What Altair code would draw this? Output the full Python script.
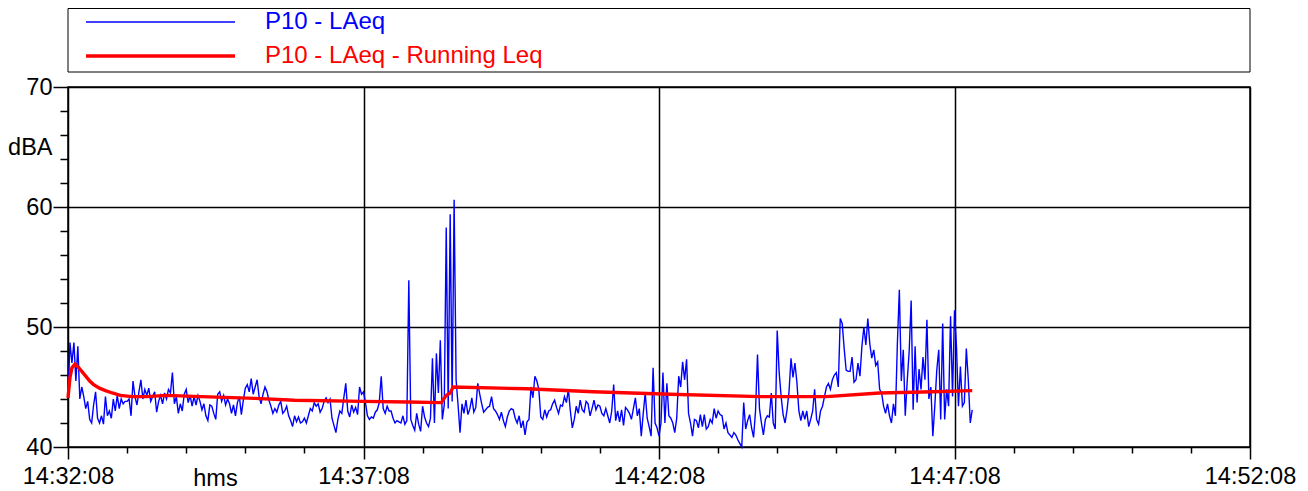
import altair as alt
import pandas as pd

# Start of the time axis: 14:32:08 (seconds of day)
START_SEC = 14 * 3600 + 32 * 60 + 8
STEP_SEC = 2  # LAeq samples every 2 s

# P10 - LAeq, one row per minute (30 samples of 2 s each)
m00 = [44.1, 48.7, 47.0, 48.7, 45.5, 48.4, 44.0, 45.0, 44.2, 43.2, 43.8, 42.3, 42.0, 43.5, 44.6,
       42.4, 42.0, 42.6, 41.9, 44.2, 42.6, 43.0, 42.4, 44.0, 43.0, 44.3, 43.2, 44.0, 43.6, 43.8]
m01 = [43.8, 44.0, 42.6, 45.5, 44.2, 43.5, 44.6, 45.6, 44.0, 44.8, 44.3, 44.9, 43.8, 44.2, 44.6,
       42.9, 43.8, 44.3, 43.6, 44.5, 44.0, 44.8, 44.5, 46.2, 43.6, 44.2, 42.8, 43.6, 43.0, 44.4]
m02 = [44.8, 43.7, 44.3, 43.4, 44.2, 43.5, 44.3, 43.8, 43.1, 43.6, 42.6, 42.2, 43.5, 43.4, 42.8,
       42.3, 44.4, 44.6, 43.8, 44.3, 43.5, 44.0, 43.6, 42.8, 43.5, 42.6, 43.7, 44.2, 42.7, 43.9]
m03 = [44.9, 45.2, 44.6, 45.7, 44.4, 45.0, 45.6, 44.2, 43.6, 44.4, 45.0, 44.6, 43.9, 43.4, 42.8,
       43.2, 42.9, 43.5, 43.8, 42.8, 43.0, 43.4, 42.6, 42.2, 41.7, 42.6, 42.1, 42.5, 42.0, 42.1]
m04 = [42.4, 42.0, 42.6, 43.2, 43.0, 43.7, 43.4, 43.6, 42.9, 43.2, 43.8, 44.1, 43.7, 44.0, 42.4,
       41.8, 41.2, 42.3, 43.0, 42.8, 44.1, 45.3, 43.0, 42.5, 43.5, 42.9, 43.3, 42.7, 45.0, 44.4]
m05 = [44.6, 43.7, 42.6, 42.3, 42.5, 42.4, 42.9, 43.1, 43.7, 45.9, 43.2, 42.8, 43.4, 43.0, 43.0,
       42.4, 42.0, 42.2, 42.1, 42.0, 42.6, 41.9, 42.2, 53.9, 42.3, 41.8, 41.4, 42.8, 41.9, 41.3]
m06 = [43.4, 42.5, 42.0, 41.7, 42.4, 47.4, 42.0, 47.8, 44.5, 48.9, 42.3, 43.5, 58.3, 43.2, 59.4,
       43.8, 60.6, 45.6, 43.5, 41.2, 43.6, 42.8, 43.9, 42.7, 43.2, 44.1, 42.9, 43.3, 45.3, 44.4]
m07 = [43.6, 42.9, 43.1, 43.3, 43.4, 44.2, 43.2, 43.0, 42.7, 42.3, 42.9, 42.2, 41.7, 42.5, 43.0,
       43.2, 43.1, 42.4, 42.0, 42.6, 41.6, 42.2, 41.0, 42.1, 42.3, 45.0, 44.1, 45.9, 45.5, 44.8]
m08 = [42.5, 42.3, 43.1, 42.5, 43.0, 43.1, 43.6, 43.9, 43.3, 42.8, 43.5, 43.4, 44.2, 43.7, 44.8,
       43.0, 41.6, 42.3, 43.4, 42.8, 43.9, 43.1, 42.9, 43.8, 43.6, 42.6, 43.2, 43.9, 43.1, 43.5]
m09 = [43.4, 42.8, 42.6, 43.2, 42.6, 42.0, 43.0, 45.2, 42.2, 43.0, 42.1, 43.1, 41.8, 43.3, 43.1,
       42.8, 42.3, 43.2, 44.1, 42.6, 43.2, 40.9, 42.8, 44.5, 42.4, 41.7, 40.9, 46.6, 42.0, 41.6]
m10 = [40.9, 42.0, 46.2, 42.0, 45.3, 42.6, 42.4, 42.0, 41.2, 42.4, 45.9, 45.0, 47.1, 45.6, 47.3,
       42.8, 42.0, 40.9, 42.3, 42.2, 41.6, 42.7, 41.7, 42.7, 41.5, 41.7, 42.3, 42.0, 43.2, 42.4]
m11 = [43.0, 42.7, 42.6, 41.5, 42.0, 41.2, 41.0, 40.8, 41.2, 41.0, 40.6, 40.3, 40.0, 43.7, 41.5,
       42.2, 42.7, 41.6, 40.8, 43.0, 47.7, 43.2, 42.0, 41.0, 42.3, 42.6, 42.5, 44.5, 42.0, 41.5]
m12 = [49.7, 46.2, 44.2, 42.7, 42.0, 43.1, 44.6, 47.4, 45.8, 47.0, 45.4, 43.0, 42.2, 43.0, 42.3,
       43.0, 41.7, 42.3, 43.0, 44.8, 42.3, 41.9, 43.0, 43.4, 44.2, 45.0, 45.3, 44.8, 45.6, 46.0]
m13 = [46.2, 45.0, 50.7, 50.3, 48.2, 46.4, 46.3, 46.3, 47.5, 45.4, 45.6, 47.0, 45.9, 48.4, 50.0,
       48.5, 50.7, 48.6, 47.4, 48.1, 46.8, 47.1, 44.8, 44.5, 43.4, 42.8, 43.6, 42.6, 42.0, 43.6]
m14 = [42.6, 48.6, 53.1, 45.5, 48.1, 42.6, 45.5, 48.0, 52.2, 43.1, 48.4, 43.7, 46.5, 44.8, 47.5,
       45.6, 50.6, 44.0, 45.0, 40.9, 43.4, 46.4, 48.1, 42.3, 50.3, 42.3, 44.8, 43.4, 50.9, 44.2]
m15 = [51.4, 48.4, 43.4, 46.7, 43.4, 43.7, 48.2, 45.6, 42.0, 43.1]

laeq_db = m00 + m01 + m02 + m03 + m04 + m05 + m06 + m07 + m08 + m09 + m10 + m11 + m12 + m13 + m14 + m15

# P10 - LAeq - Running Leq (seconds after 14:32:08, dBA)
leq_sec = [0, 2, 4, 7, 10, 14, 18, 22, 26, 32, 38, 45, 53, 65, 80, 100, 135, 190, 230, 300,
           345, 379, 384, 388, 391, 466, 533, 611, 703, 770, 824, 878, 918]
leq_db = [44.1, 45.8, 46.6, 46.9, 46.7, 46.3, 45.9, 45.5, 45.2, 44.9, 44.7, 44.5, 44.3, 44.2,
          44.2, 44.3, 44.2, 44.05, 43.9, 43.8, 43.75, 43.7, 44.3, 44.5, 45.0, 44.85, 44.6, 44.4,
          44.2, 44.2, 44.5, 44.6, 44.7]

series_names = ["P10 - LAeq", "P10 - LAeq - Running Leq"]
series_colors = ["#0000ff", "#ff0000"]
series_widths = [1.4, 3.4]

x_ticks = list(range(0, 1201, 60))
y_ticks = list(range(40, 71, 2))

blue_df = pd.DataFrame({
    "sec": [i * STEP_SEC for i in range(len(laeq_db))],
    "db": laeq_db,
    "series": series_names[0],
})
red_df = pd.DataFrame({"sec": leq_sec, "db": leq_db, "series": series_names[1]})

FONT = "Liberation Sans"
FS = 23.5
LFS = 24

x_major = "datum.value % 300 == 0"
x_axis = alt.Axis(
    values=x_ticks,
    labelExpr=f"{x_major} ? utcFormat((datum.value + {START_SEC}) * 1000, '%H:%M:%S') : ''",
    tickSize={"condition": {"test": x_major, "value": 12}, "value": 6},
    tickColor="black", tickWidth=1.5,
    grid=True, gridColor="black", gridWidth=1.5,
    gridOpacity={"condition": {"test": x_major, "value": 1}, "value": 0},
    domain=False,
    labelFont=FONT, labelFontSize=FS, labelColor="black", labelPadding=5,
    labelFlush=False, labelOverlap=False,
    title="hms", titleFont=FONT, titleFontSize=FS, titleFontWeight="normal", titleColor="black",
    titleX=147, titleY=31, titleAlign="center", titleBaseline="middle",
)

y_major = "datum.value % 10 == 0"
y_axis = alt.Axis(
    values=y_ticks,
    labelExpr=f"{y_major} ? datum.label : ''",
    tickSize={"condition": {"test": y_major, "value": 15}, "value": 8},
    tickColor="black", tickWidth=1.5,
    grid=True, gridColor="black", gridWidth=1.5,
    gridOpacity={"condition": {"test": y_major, "value": 1}, "value": 0},
    domain=False,
    labelFont=FONT, labelFontSize=FS, labelColor="black", labelPadding=1,
    labelBaseline="middle", labelFlush=False, labelOverlap=False,
    title="dBA", titleFont=FONT, titleFontSize=FS, titleFontWeight="normal", titleColor="black",
    titleAngle=0, titleX=-16, titleY=60, titleAlign="right", titleBaseline="middle",
)

legend = alt.Legend(
    title=None, orient="none", legendX=16, legendY=-77, direction="vertical",
    symbolType="stroke", symbolSize=22201, clipHeight=24, rowPadding=10,
    labelOffset=28, labelFont=FONT, labelFontSize=LFS, labelLimit=800, padding=0,
    labelColor={"expr": f"datum.label == '{series_names[0]}' ? '{series_colors[0]}' : '{series_colors[1]}'"},
)

x_enc = alt.X("sec:Q", scale=alt.Scale(domain=[0, 1200], nice=False, zero=False), axis=x_axis)
y_enc = alt.Y("db:Q", scale=alt.Scale(domain=[40, 70], nice=False, zero=False), axis=y_axis)
color_enc = alt.Color("series:N", scale=alt.Scale(domain=series_names, range=series_colors), legend=legend)
width_enc = alt.StrokeWidth("series:N", scale=alt.Scale(domain=series_names, range=series_widths), legend=legend)

legend_box = alt.Chart(pd.DataFrame({"k": [0]})).mark_rect(
    fill="white", stroke="black", strokeWidth=1
).encode(x=alt.value(0), x2=alt.value(1182), y=alt.value(-78.5), y2=alt.value(-15))

blue = alt.Chart(blue_df).mark_line().encode(x=x_enc, y=y_enc, color=color_enc, strokeWidth=width_enc)
red = alt.Chart(red_df).mark_line().encode(x=x_enc, y=y_enc, color=color_enc, strokeWidth=width_enc)

chart = alt.layer(legend_box, blue, red).properties(
    width=1182, height=360,
    padding={"left": 60, "top": 79, "right": 50, "bottom": 42},
    autosize=alt.AutoSizeParams(type="none"),
).configure(font=FONT, background="white").configure_view(stroke="black", strokeWidth=1.5)

chart.save("out.html", embed_options={"renderer": "svg", "actions": False})
